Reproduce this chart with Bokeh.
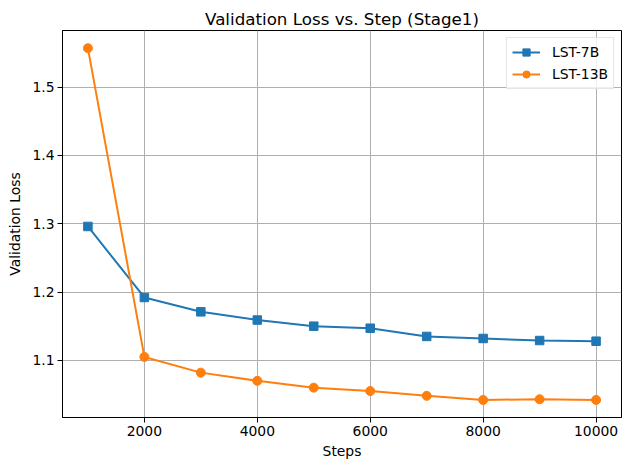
from bokeh.plotting import figure
from bokeh.models import FixedTicker, Range1d, Legend, LegendItem
from bokeh.embed import file_html
from bokeh.resources import INLINE

steps = [1000, 2000, 3000, 4000, 5000, 6000, 7000, 8000, 9000, 10000]
loss_7b = [1.296, 1.192, 1.171, 1.159, 1.150, 1.147, 1.135, 1.132, 1.129, 1.128]
loss_13b = [1.557, 1.105, 1.082, 1.070, 1.060, 1.055, 1.048, 1.042, 1.043, 1.042]
x_ticks = [2000, 4000, 6000, 8000, 10000]
y_ticks = [1.1, 1.2, 1.3, 1.4, 1.5]

FONT = "DejaVu Sans"
p = figure(width=622, height=462, output_backend="svg", toolbar_location=None,
           x_range=Range1d(550, 10450), y_range=Range1d(1.0163, 1.5829),
           min_border_left=62, min_border_right=1, min_border_top=30, min_border_bottom=45,
           title="Validation Loss vs. Step (Stage1)")
p.title.text_font = FONT
p.title.text_font_size = "16.7px"
p.title.text_font_style = "normal"
p.title.text_color = "black"
p.title.align = "center"
p.title.standoff = 4
p.outline_line_color = "black"
p.outline_line_width = 1
p.background_fill_color = "white"
p.border_fill_color = "white"

for ax in (p.xaxis[0], p.yaxis[0]):
    ax.major_label_text_font = FONT
    ax.major_label_text_font_size = "13.9px"
    ax.axis_label_text_font = FONT
    ax.axis_label_text_font_size = "13.9px"
    ax.axis_label_text_font_style = "normal"
    ax.minor_tick_line_color = None
    ax.major_tick_in = 0
    ax.major_tick_out = 5
    ax.major_label_standoff = 3
    ax.axis_line_color = "black"
    ax.major_label_text_color = "black"
    ax.axis_label_text_color = "black"

p.xaxis.ticker = FixedTicker(ticks=x_ticks)
p.yaxis.ticker = FixedTicker(ticks=y_ticks)
p.xaxis.axis_label = "Steps"
p.yaxis.axis_label = "Validation Loss"
p.xaxis.axis_label_standoff = 4
p.yaxis.axis_label_standoff = 6

p.xgrid.grid_line_color = "#b0b0b0"
p.ygrid.grid_line_color = "#b0b0b0"
p.xgrid.grid_line_width = 1
p.ygrid.grid_line_width = 1

c1, c2 = "#1f77b4", "#ff7f0e"
l1 = p.line(steps, loss_7b, line_color=c1, line_width=2)
s1 = p.scatter(steps, loss_7b, marker="square", size=8.5, fill_color=c1, line_color=c1)
l2 = p.line(steps, loss_13b, line_color=c2, line_width=2)
s2 = p.scatter(steps, loss_13b, marker="circle", size=9, fill_color=c2, line_color=c2)

legend = Legend(items=[LegendItem(label="LST-7B", renderers=[l1, s1]),
                       LegendItem(label="LST-13B", renderers=[l2, s2])],
                location="top_right")
legend.label_text_font = FONT
legend.label_text_font_size = "13.9px"
legend.label_text_color = "black"
legend.border_line_color = "#cccccc"
legend.border_line_width = 1
legend.margin = 7
legend.padding = 5
legend.spacing = 4
legend.glyph_width = 28
legend.glyph_height = 18
legend.label_height = 18
legend.label_standoff = 12
legend.background_fill_alpha = 0.8
p.add_layout(legend)

open("out.html", "w").write(file_html(p, INLINE))
